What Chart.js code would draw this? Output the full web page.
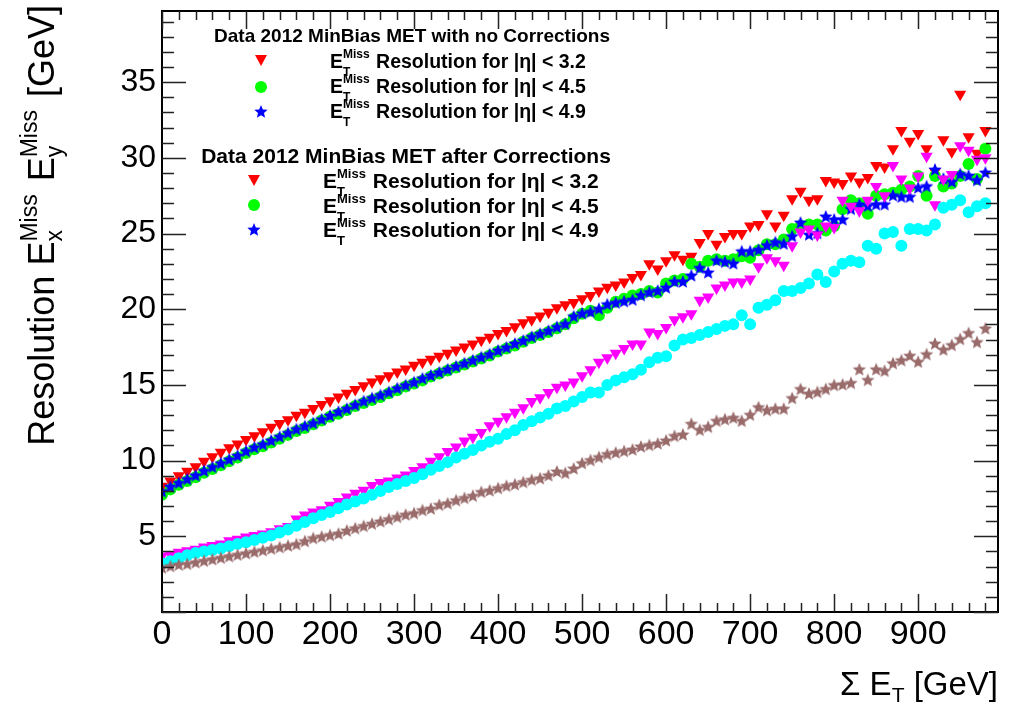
<!DOCTYPE html>
<html><head><meta charset="utf-8">
<script src="https://cdn.jsdelivr.net/npm/chart.js@4.4.1/dist/chart.umd.min.js"></script>
<style>html,body{margin:0;padding:0;background:#fff;}canvas{display:block;}</style>
</head><body>
<canvas id="c" width="1013" height="712"></canvas>
<script>
// ---- data ----
const sumEt = [0,10,20,30,40,50,60,70,80,90,100,110,120,130,140,150,160,170,180,190,200,210,220,230,240,250,260,270,280,290,300,310,320,330,340,350,360,370,380,390,400,410,420,430,440,450,460,470,480,490,500,510,520,530,540,550,560,570,580,590,600,610,620,630,640,650,660,670,680,690,700,710,720,730,740,750,760,770,780,790,800,810,820,830,840,850,860,870,880,890,900,910,920,930,940,950,960,970,980];

const noCorr32 = [8.3,8.65,9.0,9.3,9.6,9.95,10.25,10.55,10.85,11.1,11.4,11.65,11.9,12.2,12.45,12.7,13.0,13.2,13.45,13.7,13.95,14.2,14.45,14.7,14.95,15.2,15.4,15.6,15.85,16.05,16.3,16.5,16.7,16.9,17.1,17.3,17.5,17.7,17.95,18.15,18.4,18.6,18.85,19.1,19.3,19.55,19.8,20.1,
20.3,20.45,20.7,20.9,21.2,21.45,21.6,21.8,22.1,22.3,23.0,22.65,23.2,23.6,23.3,23.5,24.4,25.0,24.3,24.8,25.0,25.0,25.5,25.6,26.3,25.5,26.2,27.3,27.8,27.2,27.3,28.5,28.4,28.3,28.8,28.4,28.7,29.5,29.4,30.6,31.8,31.1,31.6,30.6,29.1,31.2,30.4,34.2,31.4,30.3,31.8];

const noCorr45 = [7.75,8.1,8.4,8.65,8.9,9.2,9.45,9.7,9.95,10.2,10.5,10.75,10.95,11.2,11.45,11.7,11.95,12.15,12.4,12.65,12.9,13.1,13.35,13.6,13.8,14.0,14.2,14.45,14.65,14.9,15.1,15.3,15.55,15.75,15.95,16.15,16.35,16.55,16.75,16.95,17.2,17.4,17.6,17.85,18.1,18.3,18.5,18.75,
19.0,19.4,19.7,19.9,19.6,20.1,20.5,20.7,20.9,21.0,21.2,21.1,21.7,21.9,22.0,23.0,22.8,23.2,23.3,23.2,23.3,23.5,23.4,23.9,24.3,24.3,24.6,25.3,25.5,25.6,25.6,25.2,25.5,26.6,27.2,27.0,26.3,27.5,27.6,27.7,27.9,28.1,28.8,27.5,28.8,28.1,28.3,28.8,29.6,28.6,30.6];

const noCorr49 = [7.95,8.25,8.5,8.75,9.0,9.3,9.55,9.8,10.05,10.3,10.6,10.85,11.05,11.3,11.55,11.8,12.05,12.25,12.45,12.7,12.95,13.2,13.4,13.65,13.9,14.1,14.3,14.5,14.75,14.95,15.15,15.4,15.6,15.8,16.0,16.2,16.4,16.6,16.8,17.0,17.25,17.45,17.7,17.9,18.15,18.35,18.55,18.8,
19.0,19.5,19.7,19.8,20.0,20.3,20.4,20.5,20.6,20.9,21.1,21.2,21.4,21.8,21.8,22.2,22.7,22.4,23.2,23.1,23.0,23.8,23.8,23.9,24.2,24.4,24.3,24.8,25.7,24.9,25.0,26.1,25.9,25.9,26.6,26.9,26.8,26.9,26.9,27.5,27.4,27.4,28.0,28.1,29.2,28.6,28.4,28.9,28.8,28.5,29.0];

const corr32 = [3.7,3.8,3.95,4.05,4.15,4.3,4.4,4.5,4.7,4.8,4.95,5.05,5.15,5.3,5.5,5.65,6.15,6.4,6.6,6.75,7.05,7.3,7.6,7.85,8.05,8.35,8.55,8.65,8.85,9.05,9.35,9.6,9.95,10.25,10.6,10.9,11.3,11.55,11.85,12.3,12.6,12.9,13.2,13.5,13.9,14.15,14.5,14.85,
15.0,15.2,15.6,16.0,16.5,16.8,17.1,17.4,17.7,17.7,18.5,18.4,18.8,19.3,19.5,19.7,20.6,20.8,21.4,21.6,21.8,21.8,22.0,22.8,23.4,23.2,22.9,24.2,25.1,25.3,24.9,25.5,25.4,27.2,26.8,26.5,27.2,28.1,27.5,29.5,28.6,28.0,28.8,30.1,26.9,28.6,28.9,30.8,30.5,29.9,30.0];

const corr45 = [3.2,3.35,3.55,3.75,3.9,4.0,4.1,4.2,4.35,4.5,4.6,4.75,4.9,5.05,5.25,5.45,5.7,5.95,6.2,6.4,6.6,6.85,7.1,7.3,7.5,7.75,8.0,8.25,8.45,8.65,8.85,9.1,9.4,9.65,9.9,10.2,10.45,10.7,11.0,11.25,11.45,11.75,12.0,12.35,12.6,12.85,13.1,13.45,
13.6,13.9,14.2,14.5,14.5,15.0,15.3,15.5,15.7,16.0,16.5,16.8,16.9,17.6,18.0,18.1,18.3,18.5,18.7,18.9,19.0,19.6,19.0,20.1,20.3,20.6,21.2,21.2,21.4,21.7,22.3,21.8,22.5,23.0,23.2,23.1,24.2,24.0,25.0,25.1,24.2,25.3,25.3,25.2,25.6,26.7,26.9,27.2,26.4,26.8,27.0];

const corr49 = [2.9,3.0,3.1,3.15,3.25,3.35,3.45,3.55,3.65,3.75,3.85,3.95,4.05,4.15,4.25,4.35,4.45,4.65,4.85,4.95,5.05,5.15,5.35,5.5,5.65,5.8,5.95,6.1,6.25,6.4,6.5,6.7,6.8,7.05,7.15,7.35,7.5,7.65,7.9,8.0,8.15,8.3,8.4,8.55,8.7,8.8,9.0,9.25,
9.15,9.45,9.8,10.0,10.2,10.4,10.5,10.6,10.7,10.9,11.0,11.1,11.3,11.6,11.7,12.4,12.0,12.2,12.6,12.7,12.8,12.6,13.0,13.5,13.3,13.4,13.4,14.1,14.7,14.4,14.5,14.7,14.96,15.0,15.1,16.0,15.3,16.0,15.9,16.4,16.6,16.9,16.5,17.0,17.7,17.3,17.6,18.0,18.4,17.8,18.7];

const xTicks = [0,100,200,300,400,500,600,700,800,900];
const yTicks = [5,10,15,20,25,30,35];
const headers = ['Data 2012 MinBias MET with no Corrections','Data 2012 MinBias MET after Corrections'];
const entryTexts = [' Resolution for |\u03B7| < 3.2',' Resolution for |\u03B7| < 4.5',' Resolution for |\u03B7| < 4.9'];

// ---- styling ----
const FONT = '"Liberation Sans", Arial, Helvetica, sans-serif';
function starCanvas(color, R) {
  const s = Math.ceil(R * 2 + 2);
  const c = document.createElement('canvas'); c.width = s; c.height = s;
  const g = c.getContext('2d'); g.fillStyle = color; g.beginPath();
  for (let i = 0; i < 10; i++) {
    const r = i % 2 ? R * 0.45 : R;
    const a = -Math.PI / 2 + i * Math.PI / 5;
    g.lineTo(s / 2 + r * Math.cos(a), s / 2 + r * Math.sin(a));
  }
  g.closePath(); g.fill(); return c;
}
const starBlue = starCanvas('#0000ff', 7);
const starBrown = starCanvas('#9a6b6b', 7);

function pts(ys) { return sumEt.map((x, i) => ({x: x, y: ys[i]})); }

const tri = (color, order) => ({data: [], pointStyle: 'triangle', pointRotation: 180, pointRadius: 7,
  backgroundColor: color, borderColor: color, pointBorderWidth: 0, showLine: false, order: order});
const circ = (color, order) => ({data: [], pointStyle: 'circle', pointRadius: 6,
  backgroundColor: color, borderColor: color, pointBorderWidth: 0, showLine: false, order: order});
const star = (img, color, order) => ({data: [], pointStyle: img, pointRadius: 7,
  backgroundColor: color, borderColor: color, showLine: false, order: order});

const dsets = [
  Object.assign(tri('#ff0000', 6), {data: pts(noCorr32)}),
  Object.assign(circ('#00ff00', 5), {data: pts(noCorr45)}),
  Object.assign(star(starBlue, '#0000ff', 4), {data: pts(noCorr49)}),
  Object.assign(tri('#ff00ff', 3), {data: pts(corr32)}),
  Object.assign(circ('#00ffff', 2), {data: pts(corr45)}),
  Object.assign(star(starBrown, '#9a6b6b', 1), {data: pts(corr49)})
];

function drawRich(ctx, x, y, parts) {
  let cx = x;
  for (const p of parts) {
    ctx.font = (p.bold ? 'bold ' : '') + p.size + 'px ' + FONT;
    if (p.pair) {
      const w1 = ctx.measureText(p.sup).width, w2 = ctx.measureText(p.sub).width;
      ctx.fillText(p.sup, cx, y + p.supDy);
      ctx.fillText(p.sub, cx, y + p.subDy);
      cx += Math.max(w1, w2) + (p.gap || 0);
    } else {
      ctx.fillText(p.t, cx, y + (p.dy || 0));
      cx += ctx.measureText(p.t).width;
    }
  }
  return cx - x;
}
function richWidth(ctx, parts) {
  let w = 0;
  for (const p of parts) {
    ctx.font = (p.bold ? 'bold ' : '') + p.size + 'px ' + FONT;
    if (p.pair) w += Math.max(ctx.measureText(p.sup).width, ctx.measureText(p.sub).width) + (p.gap || 0);
    else w += ctx.measureText(p.t).width;
  }
  return w;
}

const decor = {
  id: 'decor',
  afterDraw(chart) {
    const ctx = chart.ctx, a = chart.chartArea, xs = chart.scales.x, ys = chart.scales.y;
    ctx.save();
    // frame
    ctx.strokeStyle = '#000'; ctx.lineWidth = 2;
    ctx.strokeRect(a.left, a.top, a.right - a.left, a.bottom - a.top);
    // ticks (inside, mirrored)
    ctx.lineWidth = 1.5; ctx.strokeStyle = '#222';
    ctx.beginPath();
    for (let v = 0; v <= xs.max; v += 20) {
      const px = Math.round(xs.getPixelForValue(v)) + 0.5;
      const L = v % 100 === 0 ? 18 : 9;
      ctx.moveTo(px, a.bottom); ctx.lineTo(px, a.bottom - L);
      ctx.moveTo(px, a.top); ctx.lineTo(px, a.top + L);
    }
    for (let v = 0; v <= ys.max; v += 1) {
      const py = Math.round(ys.getPixelForValue(v)) + 0.5;
      const L = v % 5 === 0 ? 24 : 12;
      ctx.moveTo(a.left, py); ctx.lineTo(a.left + L, py);
      ctx.moveTo(a.right, py); ctx.lineTo(a.right - L, py);
    }
    ctx.stroke();

    ctx.fillStyle = '#000'; ctx.textBaseline = 'alphabetic'; ctx.textAlign = 'left';
    // x title: Σ E_T [GeV]
    const xt = [{t: '\u03A3 E', size: 33}, {t: 'T', size: 21, dy: 7}, {t: ' [GeV]', size: 33}];
    const xw = richWidth(ctx, xt);
    drawRich(ctx, 998 - xw, 695, xt);
    // y title rotated
    const yt = [{t: 'Resolution E', size: 36},
      {pair: true, sup: 'Miss', sub: 'x', supDy: -17, subDy: 8, size: 23, gap: 3},
      {t: ' E', size: 36},
      {pair: true, sup: 'Miss', sub: 'y', supDy: -17, subDy: 8, size: 23, gap: 3},
      {t: ' [GeV]', size: 36}];
    const yw = richWidth(ctx, yt);
    ctx.save(); ctx.translate(54, 0); ctx.rotate(-Math.PI / 2);
    drawRich(ctx, -5 - yw, 0, yt);
    ctx.restore();

    // legend
    const groups = [
      {hx: 412, hy: 42, hs: 19, es: 19.5, ss: 12, ex: 330, mx: 261, rows: [68, 93, 118], my: [60, 87, 112]},
      {hx: 406, hy: 163, hs: 21, es: 21, ss: 13, ex: 323, mx: 254, rows: [188, 213, 237], my: [180, 205, 230]}
    ];
    const legColors = ['#ff0000', '#00ff00', '#0000ff'];
    groups.forEach((g, gi) => {
      ctx.font = 'bold ' + g.hs + 'px ' + FONT; ctx.textAlign = 'center';
      ctx.fillText(headers[gi], g.hx, g.hy);
      ctx.textAlign = 'left';
      for (let r = 0; r < 3; r++) {
        drawRich(ctx, g.ex, g.rows[r], [
          {t: 'E', size: g.es, bold: true},
          {pair: true, sup: 'Miss', sub: 'T', supDy: -10, subDy: 8, size: g.ss, bold: true, gap: 1},
          {t: entryTexts[r], size: g.es, bold: true}]);
        const mx = g.mx, my = g.my[r];
        ctx.fillStyle = legColors[r];
        if (r === 0) {
          ctx.beginPath(); ctx.moveTo(mx - 6, my - 5); ctx.lineTo(mx + 6, my - 5); ctx.lineTo(mx, my + 6); ctx.closePath(); ctx.fill();
        } else if (r === 1) {
          ctx.beginPath(); ctx.arc(mx, my, 6, 0, Math.PI * 2); ctx.fill();
        } else {
          ctx.drawImage(starBlue, mx - starBlue.width / 2, my - starBlue.height / 2);
        }
        ctx.fillStyle = '#000';
      }
    });
    ctx.restore();
  }
};

Chart.defaults.font.family = FONT;
new Chart(document.getElementById('c'), {
  type: 'scatter',
  data: {datasets: dsets},
  options: {
    responsive: false, animation: false, devicePixelRatio: 1,
    layout: {padding: {top: 11, right: 15, left: 0, bottom: 0}},
    plugins: {legend: {display: false}, tooltip: {enabled: false}},
    scales: {
      x: {type: 'linear', min: 0, max: 995,
        afterBuildTicks: s => { s.ticks = xTicks.map(v => ({value: v})); },
        afterFit: s => { s.height = 100; s.paddingLeft = 0; s.paddingRight = 0; },
        grid: {display: false, drawTicks: false}, border: {display: false},
        ticks: {font: {size: 34}, color: '#000', padding: 2, maxRotation: 0, autoSkip: false}},
      y: {type: 'linear', min: 0, max: 39.7,
        afterBuildTicks: s => { s.ticks = yTicks.map(v => ({value: v})); },
        afterFit: s => { s.width = 162; s.paddingTop = 0; s.paddingBottom = 0; },
        grid: {display: false, drawTicks: false}, border: {display: false},
        ticks: {font: {size: 32}, color: '#000', padding: 6, autoSkip: false}}
    }
  },
  plugins: [decor]
});
</script>
</body></html>
